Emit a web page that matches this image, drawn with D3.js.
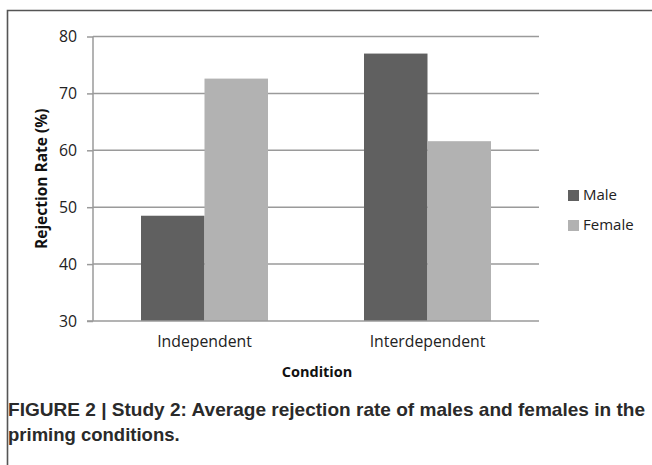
<!DOCTYPE html>
<html>
<head>
<meta charset="utf-8">
<script src="https://cdn.jsdelivr.net/npm/d3@7"></script>
<style>
  body { margin: 0; background: #fff; }
  svg { display: block; }
  .tick text { font-family: "Open Sans", sans-serif; font-size: 15.8px; fill: #222; }
</style>
</head>
<body>
<div id="chart"></div>
<script>
// chart values
var conditions = ["Independent", "Interdependent"];
var seriesNames = ["Male", "Female"];
var maleRates = [48.5, 77.0];
var femaleRates = [72.6, 61.6];
var yTicks = [30, 40, 50, 60, 70, 80];
var colors = ["#606060", "#b2b2b2"];

var W = 652, H = 465;
var svg = d3.select("#chart").append("svg")
    .attr("width", W).attr("height", H);

// frame round the figure (open on right and bottom)
svg.append("path")
  .attr("d", "M7.5," + H + " V10.5 H" + W)
  .attr("fill", "none")
  .attr("stroke", "#555")
  .attr("stroke-width", 1.6);

var plot = {left: 93, right: 539, top: 36.5, bottom: 321};

var x = d3.scaleBand()
    .domain(conditions)
    .range([plot.left, plot.right]);

var xs = d3.scaleBand()
    .domain(seriesNames)
    .range([0, 127])
    .padding(0);

var y = d3.scaleLinear()
    .domain([30, 80])
    .range([plot.bottom, plot.top]);

// gridlines
svg.append("g")
  .selectAll("line")
  .data(yTicks.slice(1))
  .join("line")
    .attr("x1", plot.left).attr("x2", plot.right)
    .attr("y1", function(d){ return y(d) }).attr("y2", function(d){ return y(d) })
    .attr("stroke", "#9a9a9a").attr("stroke-width", 1.5);

// bars
var rows = conditions.map(function(c, i){
  return {cond: c, values: [maleRates[i], femaleRates[i]]};
});
var groups = svg.append("g")
  .selectAll("g")
  .data(rows)
  .join("g")
    .attr("transform", function(d){ return "translate(" + (x(d.cond) + x.bandwidth() / 2 - 63.5) + ",0)" });
groups.selectAll("rect")
  .data(function(d){ return d.values.map(function(v, j){ return {name: seriesNames[j], v: v, j: j} }) })
  .join("rect")
    .attr("x", function(d){ return xs(d.name) })
    .attr("width", xs.bandwidth())
    .attr("y", function(d){ return y(d.v) })
    .attr("height", function(d){ return y(30) - y(d.v) })
    .attr("fill", function(d){ return colors[d.j] });

// y axis
var yAxis = svg.append("g")
  .attr("transform", "translate(" + plot.left + ",0)")
  .call(d3.axisLeft(y).tickValues(yTicks).tickSize(6).tickPadding(10).tickFormat(d3.format("d")));
yAxis.select(".domain").attr("stroke", "#9a9a9a").attr("stroke-width", 1.5)
  .attr("d", "M0," + plot.top + "V" + plot.bottom);
yAxis.selectAll(".tick line").attr("stroke", "#9a9a9a").attr("stroke-width", 1.5);

// x axis
var xAxis = svg.append("g")
  .attr("transform", "translate(0," + plot.bottom + ")")
  .call(d3.axisBottom(x).tickSize(0).tickPadding(15));
xAxis.select(".domain").attr("stroke", "#9a9a9a").attr("stroke-width", 1.5)
  .attr("d", "M" + (plot.left - 6) + ",0H" + plot.right);
xAxis.selectAll(".tick text").attr("dy", "0.71em");

// axis titles
svg.append("text")
  .attr("transform", "translate(47," + ((plot.top + plot.bottom) / 2) + ") rotate(-90)")
  .attr("text-anchor", "middle")
  .style("font-family", "Open Sans, sans-serif")
  .style("font-size", "15.5px").style("font-weight", "bold").style("fill", "#111")
  .text("Rejection Rate (%)");

svg.append("text")
  .attr("x", 317).attr("y", 377)
  .attr("text-anchor", "middle")
  .style("font-family", "Open Sans, sans-serif")
  .style("font-size", "14.5px").style("font-weight", "bold").style("fill", "#111")
  .text("Condition");

// legend
var legend = svg.append("g")
  .selectAll("g")
  .data(seriesNames)
  .join("g")
    .attr("transform", function(d, i){ return "translate(568," + (190 + i * 30) + ")" });
legend.append("rect")
  .attr("width", 11).attr("height", 11)
  .attr("fill", function(d, i){ return colors[i] });
legend.append("text")
  .attr("x", 15).attr("y", 10)
  .style("font-family", "Open Sans, sans-serif")
  .style("font-size", "15px").style("fill", "#222")
  .text(function(d){ return d });

// caption
var caption = ["FIGURE 2 | Study 2: Average rejection rate of males and females in the",
               "priming conditions."];
svg.append("g")
  .selectAll("text")
  .data(caption)
  .join("text")
    .attr("x", 8).attr("y", function(d, i){ return 416 + i * 25 })
    .attr("textLength", function(d, i){ return i === 0 ? 637 : null })
    .attr("lengthAdjust", "spacingAndGlyphs")
    .style("font-family", "Liberation Sans, Arial, sans-serif")
    .style("font-size", "18.5px").style("font-weight", "bold").style("fill", "#2a2a2a")
    .text(function(d){ return d });
</script>
</body>
</html>
